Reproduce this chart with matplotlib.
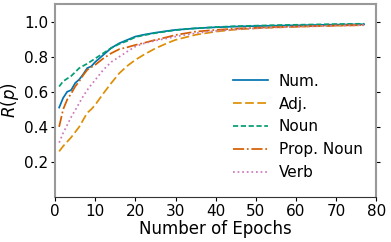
import matplotlib
matplotlib.use('Agg')
import matplotlib.pyplot as plt

epochs = [1, 2, 3, 4, 5, 6, 7, 8, 9, 10, 12, 14, 16, 18, 20, 22, 25, 28, 30,
          35, 40, 45, 50, 55, 60, 65, 70, 77]

num = [0.51, 0.565, 0.60, 0.61, 0.65, 0.67, 0.70, 0.735, 0.745, 0.77, 0.81, 0.85,
       0.877, 0.896, 0.915, 0.925, 0.937, 0.947, 0.953, 0.962, 0.968, 0.972,
       0.975, 0.977, 0.979, 0.981, 0.983, 0.985]
adj = [0.26, 0.29, 0.315, 0.34, 0.37, 0.40, 0.44, 0.48, 0.50, 0.526, 0.59, 0.65,
       0.706, 0.748, 0.782, 0.81, 0.848, 0.878, 0.896, 0.925, 0.943, 0.955,
       0.962, 0.967, 0.971, 0.974, 0.977, 0.980]
noun = [0.63, 0.66, 0.675, 0.69, 0.712, 0.735, 0.748, 0.76, 0.775, 0.79, 0.82, 0.85,
        0.873, 0.89, 0.912, 0.922, 0.935, 0.945, 0.952, 0.962, 0.969, 0.974,
        0.977, 0.980, 0.982, 0.984, 0.986, 0.988]
prop_noun = [0.40, 0.50, 0.555, 0.59, 0.63, 0.66, 0.695, 0.725, 0.74, 0.754, 0.79,
             0.82, 0.843, 0.854, 0.867, 0.878, 0.896, 0.912, 0.924, 0.943, 0.953,
             0.960, 0.965, 0.969, 0.972, 0.975, 0.978, 0.981]
verb = [0.31, 0.365, 0.41, 0.456, 0.495, 0.535, 0.575, 0.61, 0.64, 0.668, 0.725,
        0.77, 0.80, 0.83, 0.858, 0.875, 0.892, 0.905, 0.915, 0.934, 0.947, 0.956,
        0.962, 0.967, 0.971, 0.974, 0.977, 0.980]

labels = ['Num.', 'Adj.', 'Noun', 'Prop. Noun', 'Verb']
colors = ['#0173B2', '#DE8F05', '#029E73', '#D55E00', '#CC78BC']
styles = ['-', (0, (5, 2)), (0, (3, 1.5)), '-.', ':']

fig, ax = plt.subplots(figsize=(3.91, 2.42), dpi=100)
fig.subplots_adjust(left=0.141, right=0.962, top=0.983, bottom=0.186)

for ys, lab, c, ls in zip([num, adj, noun, prop_noun, verb], labels, colors, styles):
    ax.plot(epochs, ys, color=c, linestyle=ls, linewidth=1.25, label=lab)

ax.set_xlim(0, 80)
ax.set_ylim(0, 1.1)
ax.set_xticks(range(0, 81, 10))
ax.set_yticks([0.2, 0.4, 0.6, 0.8, 1.0])
ax.tick_params(axis='both', labelsize=11, direction='out', length=3, pad=2)
ax.tick_params(axis='y', right=True, labelright=False)
ax.set_xlabel('Number of Epochs', fontsize=12, labelpad=1)
ax.set_ylabel('$R(p)$', fontsize=12, labelpad=2)

for side in ['top', 'left', 'right']:
    ax.spines[side].set_color('#999999')
    ax.spines[side].set_linewidth(1.5)
ax.spines['bottom'].set_color('#333333')

ax.legend(frameon=False, fontsize=11, loc='lower right',
          bbox_to_anchor=(1.0, 0.015), handlelength=2.3, handletextpad=0.7,
          labelspacing=0.52)

fig.savefig('out.png', dpi=100)
